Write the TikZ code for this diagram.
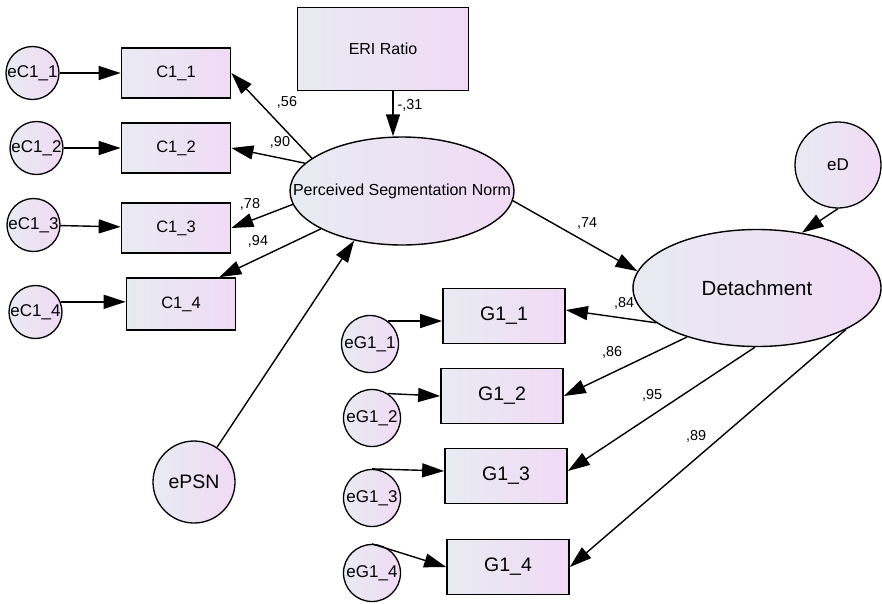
\documentclass[tikz,border=0pt]{standalone}
\usepackage{fontspec}
\setmainfont{Liberation Sans}
\usepackage{tikz}
\usetikzlibrary{arrows.meta}
\usetikzlibrary{shapes,calc}
\usetikzlibrary{positioning}
\definecolor{fillLeftColor}{HTML}{E7EBF2}
\definecolor{fillRightColor}{HTML}{F1DAF5}
\tikzstyle{obsnode} = [draw,line width=1.7pt,left color=fillLeftColor,right color=fillRightColor,inner sep=0pt,minimum width=109pt,minimum height=50pt,font=\fontsize{16.5}{18}\selectfont]
\tikzstyle{errnode} = [draw,circle,line width=1.3pt,left color=fillLeftColor,right color=fillRightColor,inner sep=0pt,minimum size=53pt,font=\fontsize{17}{19}\selectfont]
\tikzstyle{latnode} = [draw,ellipse,line width=1.4pt,left color=fillLeftColor,right color=fillRightColor,inner sep=0pt]
\tikzstyle{coef} = [inner sep=0pt,font=\fontsize{14.4}{16}\selectfont]

\begin{document}
\begin{tikzpicture}[x=1pt,y=-1pt,>={Triangle[length=22pt,width=14pt]}]
%
\tikzset{every path/.style={line width=1.4pt}}
\useasboundingbox (0,0) rectangle (882,603);

% indicators of the segmentation norm
\node (c11) [obsnode] at (176,73) {C1\_1};
\node (c12) [obsnode] at (176,148) {C1\_2};
\node (c13) [obsnode] at (176,228) {C1\_3};
\node (c14) [obsnode,minimum height=52pt] at (181,304) {C1\_4};
\node (ec11) [errnode,left = 61pt of c11] {eC1\_1};
\node (ec12) [errnode,left = 57pt of c12] {eC1\_2};
\node (ec13) [errnode,left = 60pt of c13,yshift=3pt] {eC1\_3};
\node (ec14) [errnode,left = 63pt of c14,yshift=-8pt] {eC1\_4};

\node (eri) [obsnode,minimum width=171pt,minimum height=83pt,font=\fontsize{16}{18}\selectfont] at (383,49) {ERI Ratio};
\node (psn) [latnode,minimum width=224pt,minimum height=108pt,font=\fontsize{16}{18}\selectfont] at (402,191) {\makebox[0pt]{Perceived Segmentation Norm}};
\node (epsn) [errnode,minimum size=82pt,font=\fontsize{19.5}{21}\selectfont] at (194,482) {ePSN};

% detachment and its indicators
\node (det) [latnode,minimum width=248pt,minimum height=117pt,font=\fontsize{20.5}{22}\selectfont] at (757,288) {Detachment};
\node (ed) [errnode,minimum size=86pt] at (838,165) {eD};
\node (g11) [obsnode,minimum width=122pt,minimum height=55pt,font=\fontsize{19.5}{21}\selectfont] at (504,316) {G1\_1};
\node (g12) [obsnode,minimum width=122pt,minimum height=55pt,font=\fontsize{19.5}{21}\selectfont] at (502,396) {G1\_2};
\node (g13) [obsnode,minimum width=122pt,minimum height=55pt,font=\fontsize{19.5}{21}\selectfont] at (506,476) {G1\_3};
\node (g14) [obsnode,minimum width=122pt,minimum height=55pt,font=\fontsize{19.5}{21}\selectfont] at (508,567) {G1\_4};
\node (eg11) [errnode,minimum size=57pt] at (370,344) {eG1\_1};
\node (eg12) [errnode,minimum size=57pt] at (372,418) {eG1\_2};
\node (eg13) [errnode,minimum size=57pt] at (372,498) {eG1\_3};
\node (eg14) [errnode,minimum size=57pt] at (372,573) {eG1\_4};

% path coefficients
\node (w56) [coef] at (287,102) {,56};
\node (w90) [coef] at (280,142) {,90};
\node (w78) [coef] at (250,204) {,78};
\node (w94) [coef] at (258,241) {,94};
\node (w31) [coef] at (410,105) {-,31};
\node (w74) [coef] at (587,223) {,74};
\node (w84) [coef] at (624,303) {,84};
\node (w86) [coef] at (612,352) {,86};
\node (w95) [coef] at (652,395) {,95};
\node (w89) [coef] at (696,436) {,89};

%
\draw [->] (ec11) to (c11);
\draw [->] (ec12) to (c12);
\draw [->] (ec13) to (c13);
\draw [->] (ec14.22) to (ec14.22 -| c14.west);
\draw [->] (psn.160) to (c11.east);
\draw [->] (psn.164) to (c12.east);
\draw [->] (psn.187) to (c13.east);
\draw [->] (psn.205) to ($(c14.north east)+(-17,0)$);
\draw [->] ($(eri.south)+(10,0)$) to ($(psn.north)+(-9,0)$);
\draw [->] (epsn) to (psn.226);
\draw [->] (psn.355) to (det.172);
\draw [->] (ed.south) to (det.51);
\draw [->] (det.199) to ($(g11.east)+(0,-6)$);
\draw [->] (det.215) to (g12.east);
\draw [->] (det.268) to ($(g13.east)+(0,-5)$);
\draw [->] (det.335) to (g14.east);
\draw [->] (eg11.52) to (eg11.52 -| g11.west);
\draw [->] (eg12.57) to (g12.west);
\draw [->] (eg13.north) to ($(g13.west)+(0,-5)$);
\draw [->] (eg14.north) to (g14.west);
\end{tikzpicture}
\end{document}
